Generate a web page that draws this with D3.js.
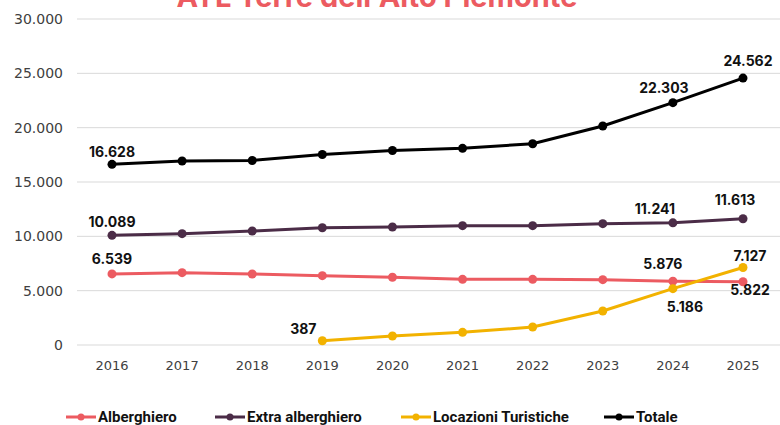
<!DOCTYPE html>
<html>
<head>
<meta charset="utf-8">
<script src="https://cdn.jsdelivr.net/npm/d3@7"></script>
<style>
  body { margin: 0; background: #fff; }
  svg { display: block; }
</style>
</head>
<body>
<svg id="chart" width="780" height="425"></svg>
<script>
// data
let years = [2016, 2017, 2018, 2019, 2020, 2021, 2022, 2023, 2024, 2025];
let alberghiero = [6539, 6655, 6530, 6380, 6230, 6045, 6045, 6010, 5876, 5822];
let extraAlberghiero = [10089, 10245, 10490, 10795, 10860, 10980, 10980, 11165, 11241, 11613];
let locazioni = [null, null, null, 387, 830, 1165, 1655, 3130, 5186, 7127];
let totale = [16628, 16930, 16980, 17530, 17900, 18100, 18520, 20150, 22303, 24562];
let yTicks = [0, 5000, 10000, 15000, 20000, 25000, 30000];

let seriesNames = ['Alberghiero', 'Extra alberghiero', 'Locazioni Turistiche', 'Totale'];
let seriesColors = ['#ec5b61', '#4b2c47', '#f2b200', '#000000'];
let seriesValues = [alberghiero, extraAlberghiero, locazioni, totale];

// which points get a value label: [series index, year index, dx, dy]
let labels = [
  [3, 0, 0, -12], [3, 8, -9, -15], [3, 9, 5, -17],
  [1, 0, 0, -13], [1, 8, -18, -14], [1, 9, -8, -19],
  [0, 0, 0, -15], [0, 8, -10, -17], [0, 9, 7, 8],
  [2, 3, -19, -12], [2, 8, 12, 18], [2, 9, 7, -11]
];

let fmt = d3.formatLocale({decimal: ',', thousands: '.', grouping: [3], currency: ['', '€']}).format(',d');

let svg = d3.select('#chart');
let margin = {left: 77, right: 0, top: 19, bottom: 80};
let width = 780, height = 425;

let x = d3.scalePoint().domain(years).range([112, 743]);
let y = d3.scaleLinear().domain([0, 30000]).range([345, 19]);

// title (partly cut off at top)
svg.append('text')
  .attr('x', 377).attr('y', 7)
  .attr('text-anchor', 'middle')
  .attr('font-family', 'Inter, "Open Sans", sans-serif')
  .attr('font-weight', 700)
  .attr('font-size', 29)
  .attr('fill', '#ec5b61')
  .text("ATL Terre dell'Alto Piemonte");

// gridlines
svg.append('g')
  .selectAll('line')
  .data(yTicks)
  .join('line')
  .attr('x1', margin.left).attr('x2', width)
  .attr('y1', d => y(d)).attr('y2', d => y(d))
  .attr('stroke', '#d9d9d9')
  .attr('stroke-width', 1);

// y labels
svg.append('g')
  .selectAll('text')
  .data(yTicks)
  .join('text')
  .attr('x', 63).attr('y', d => y(d))
  .attr('dy', '0.35em')
  .attr('text-anchor', 'end')
  .attr('font-family', '"DejaVu Sans", sans-serif')
  .attr('font-size', 14)
  .attr('fill', '#404040')
  .text(d => fmt(d));

// x labels
svg.append('g')
  .selectAll('text')
  .data(years)
  .join('text')
  .attr('x', d => x(d)).attr('y', 365)
  .attr('dy', '0.35em')
  .attr('text-anchor', 'middle')
  .attr('font-family', '"DejaVu Sans", sans-serif')
  .attr('font-size', 13)
  .attr('fill', '#404040')
  .text(d => d);

let line = d3.line()
  .defined(d => d.v != null)
  .x(d => x(d.year))
  .y(d => y(d.v));

seriesValues.forEach((vals, s) => {
  let pts = years.map((yr, i) => ({year: yr, v: vals[i]}));
  let g = svg.append('g');
  g.append('path')
    .datum(pts)
    .attr('d', line)
    .attr('fill', 'none')
    .attr('stroke', seriesColors[s])
    .attr('stroke-width', 3);
  g.selectAll('circle')
    .data(pts.filter(d => d.v != null))
    .join('circle')
    .attr('cx', d => x(d.year))
    .attr('cy', d => y(d.v))
    .attr('r', 4.5)
    .attr('fill', seriesColors[s]);
});

// value labels
svg.append('g')
  .selectAll('text')
  .data(labels)
  .join('text')
  .attr('x', d => x(years[d[1]]) + d[2])
  .attr('y', d => y(seriesValues[d[0]][d[1]]) + d[3])
  .attr('dy', '0.35em')
  .attr('text-anchor', 'middle')
  .attr('font-family', 'Inter, "Open Sans", sans-serif')
  .attr('font-weight', 700)
  .attr('font-size', 14)
  .attr('fill', '#111')
  .text(d => fmt(seriesValues[d[0]][d[1]]));

// legend
let legendX = [66, 215, 401, 604];
let legend = svg.append('g')
  .selectAll('g')
  .data(seriesNames)
  .join('g')
  .attr('transform', (d, i) => `translate(${legendX[i]},417)`);
legend.append('line')
  .attr('x1', 0).attr('x2', 30)
  .attr('stroke', (d, i) => seriesColors[i])
  .attr('stroke-width', 3);
legend.append('circle')
  .attr('cx', 15).attr('r', 3.5)
  .attr('fill', (d, i) => seriesColors[i]);
legend.append('text')
  .attr('x', 32).attr('dy', '0.35em')
  .attr('font-family', '"Liberation Sans Narrow", "Roboto", sans-serif')
  .attr('font-weight', 700)
  .attr('font-size', 15)
  .attr('fill', '#111')
  .text(d => d);
</script>
</body>
</html>
